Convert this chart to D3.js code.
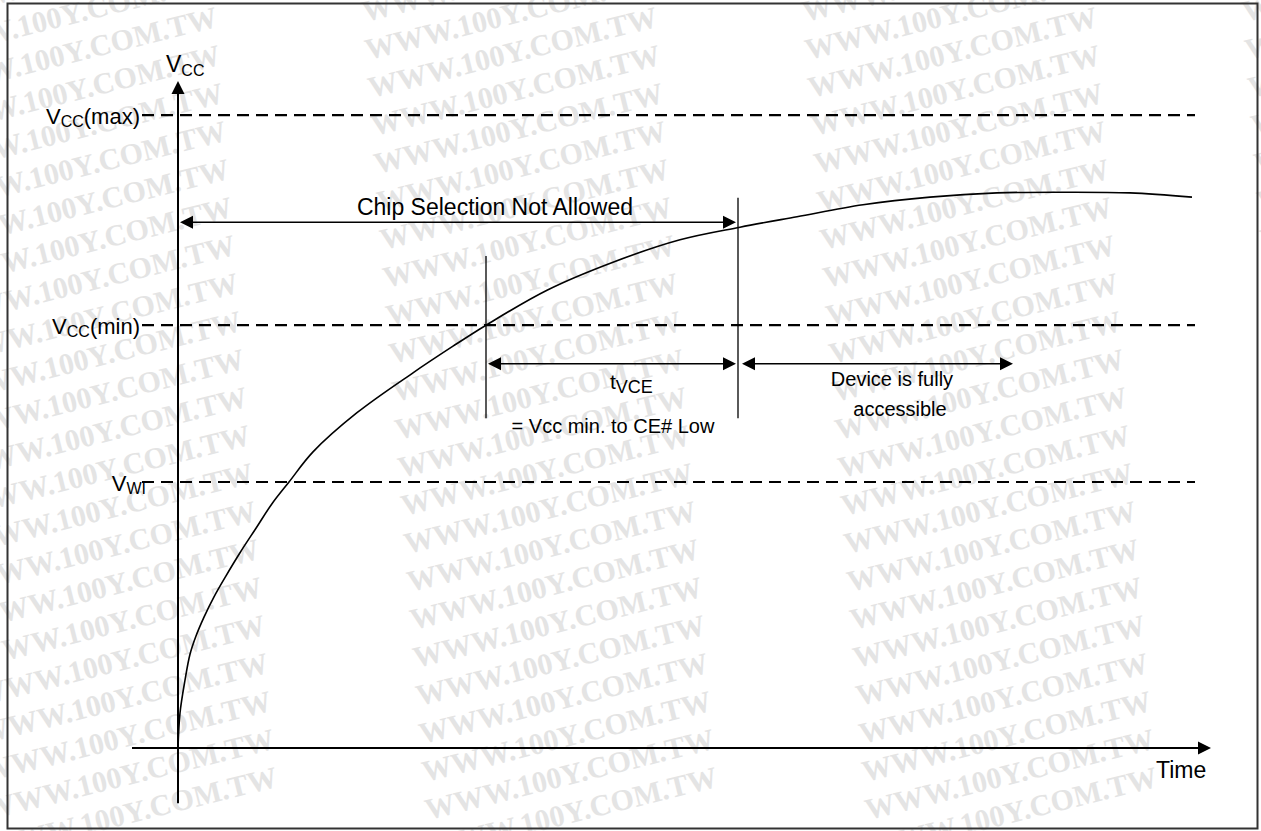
<!DOCTYPE html>
<html>
<head>
<meta charset="utf-8">
<script src="https://cdnjs.cloudflare.com/ajax/libs/d3/7.8.5/d3.min.js"></script>
<style>
  body { margin: 0; background: #fff; }
  text { font-family: "Liberation Sans", Arial, sans-serif; fill: #000; }
  .wm { font-family: "Liberation Serif", "Times New Roman", serif; font-weight: bold; fill: #e4e4e4; }
</style>
</head>
<body>
<div id="chart"></div>
<script>
// Vcc ramp (time, voltage in arbitrary units)
var rampTime  = [0, 0.2, 0.7, 1.2, 1.8, 2.6, 3.6, 4.8, 6.2, 7.8, 9.4, 11.1, 13.5, 17.9, 23.5, 27.5, 30.8, 36.9, 43.5, 50.2, 56.2, 61.9, 68.5, 75.2, 81.9, 88.5, 95.2, 101.4];
var rampVolts = [0, 5.0, 9.7, 13.4, 16.0, 18.7, 21.6, 24.6, 27.9, 31.4, 34.9, 38.0, 42.3, 47.9, 53.6, 57.4, 60.4, 65.4, 69.4, 72.6, 74.4, 75.9, 77.6, 78.7, 79.3, 79.4, 79.3, 78.7];

// reference levels: Vcc(max), Vcc(min), VWI
var levelSubs   = ["CC", "CC", "WI"];
var levelTails  = ["(max)", "(min)", ""];
var levelValues = [90.4, 60.4, 38.0];

// timing marks
var tVccMin = 30.8;   // Vcc reaches Vcc(min)
var tCeLow  = 56.0;   // end of tVCE
var tAccessEnd = 83.5;

var svgWidth = 1261;
var svgHeight = 831;

var svg = d3.select("#chart")
  .append("svg")
  .attr("width", svgWidth)
  .attr("height", svgHeight);

// scales
var xScale = d3.scaleLinear().domain([0, 100]).range([178, 1178]);
var yScale = d3.scaleLinear().domain([0, 100]).range([748, 48]);

// watermark
var wm = svg.append("g");
for (var r = 0; r < 23; r++) {
  for (var c = 0; c < 4; c++) {
    var wx = -75 + c * 440 + r * 3;
    var wy = 22 + r * 38;
    wm.append("text")
      .attr("class", "wm")
      .attr("font-size", "30px")
      .attr("transform", `translate(${wx}, ${wy}) rotate(-14)`)
      .text("WWW.100Y.COM.TW");
  }
}

// frame
svg.append("rect")
  .attr("x", 7.5).attr("y", 3.5)
  .attr("width", 1250).attr("height", 825)
  .attr("fill", "none")
  .attr("stroke", "#333")
  .attr("stroke-width", 2);

// arrow head helper (tip at x,y pointing in dir)
function arrowHead(x, y, dir) {
  var len = 13, hw = 6.5, p;
  if (dir == "right") p = [[x, y], [x - len, y - hw], [x - len, y + hw]];
  if (dir == "left")  p = [[x, y], [x + len, y - hw], [x + len, y + hw]];
  if (dir == "up")    p = [[x, y], [x - hw, y + len], [x + hw, y + len]];
  svg.append("path")
    .attr("d", "M" + p.join("L") + "Z")
    .attr("fill", "#000");
}

// dashed levels
levelValues.forEach(function(v) {
  svg.append("line")
    .attr("x1", 142).attr("x2", 1195)
    .attr("y1", yScale(v)).attr("y2", yScale(v))
    .attr("stroke", "#000")
    .attr("stroke-width", 2.2)
    .attr("stroke-dasharray", "12,7");
});

// axes
svg.append("line")
  .attr("x1", xScale(0)).attr("x2", xScale(0))
  .attr("y1", yScale(-7.9)).attr("y2", yScale(94))
  .attr("stroke", "#000").attr("stroke-width", 2);
arrowHead(xScale(0), yScale(95.3), "up");

svg.append("line")
  .attr("x1", xScale(-4.6)).attr("x2", xScale(102))
  .attr("y1", yScale(0)).attr("y2", yScale(0))
  .attr("stroke", "#000").attr("stroke-width", 2);
arrowHead(xScale(103.3), yScale(0), "right");

// the ramp
var rampData = rampTime.map(function(t, i) { return { t: t, v: rampVolts[i] }; });
var line = d3.line()
  .x(d => xScale(d.t))
  .y(d => yScale(d.v))
  .curve(d3.curveCatmullRom.alpha(0.5));
svg.append("path")
  .datum(rampData)
  .attr("d", line)
  .attr("fill", "none")
  .attr("stroke", "#000")
  .attr("stroke-width", 1.6);

// vertical markers
svg.append("line")
  .attr("x1", xScale(tVccMin)).attr("x2", xScale(tVccMin))
  .attr("y1", yScale(70.3)).attr("y2", yScale(47.1))
  .attr("stroke", "#000").attr("stroke-width", 1.3);
svg.append("line")
  .attr("x1", xScale(tCeLow)).attr("x2", xScale(tCeLow))
  .attr("y1", yScale(78.6)).attr("y2", yScale(47.1))
  .attr("stroke", "#000").attr("stroke-width", 1.3);

// double arrows
function dimArrow(t1, t2, v) {
  svg.append("line")
    .attr("x1", xScale(t1) + 4).attr("x2", xScale(t2) - 4)
    .attr("y1", yScale(v)).attr("y2", yScale(v))
    .attr("stroke", "#000").attr("stroke-width", 1.5);
  arrowHead(xScale(t1), yScale(v), "left");
  arrowHead(xScale(t2), yScale(v), "right");
}
dimArrow(0.2, tCeLow - 0.2, 75.1);
dimArrow(tVccMin + 0.2, tCeLow - 0.2, 54.9);
dimArrow(tCeLow + 0.4, tAccessEnd, 54.9);

// labels
var vcc = svg.append("text").attr("x", 166).attr("y", 72).attr("font-size", "23px");
vcc.append("tspan").text("V");
vcc.append("tspan").attr("font-size", "16px").attr("dy", 4).text("CC");

levelValues.forEach(function(v, i) {
  var t = svg.append("text")
    .attr("x", i == 2 ? 146 : 140).attr("y", yScale(v) + 9)
    .attr("text-anchor", "end")
    .attr("font-size", "22px");
  t.append("tspan").text("V");
  t.append("tspan").attr("font-size", "16px").attr("dy", 3).text(levelSubs[i]);
  if (levelTails[i]) t.append("tspan").attr("dy", -3).text(levelTails[i]);
});

svg.append("text")
  .attr("x", 495).attr("y", 215)
  .attr("text-anchor", "middle")
  .attr("font-size", "23px")
  .text("Chip Selection Not Allowed");

var tv = svg.append("text").attr("x", 610).attr("y", 389).attr("font-size", "21px");
tv.append("tspan").text("t");
tv.append("tspan").attr("font-size", "18px").attr("dy", 4).text("VCE");

svg.append("text")
  .attr("x", 613).attr("y", 433)
  .attr("text-anchor", "middle")
  .attr("font-size", "20px")
  .text("= Vcc min. to CE# Low");

svg.append("text")
  .attr("x", 892).attr("y", 386)
  .attr("text-anchor", "middle")
  .attr("font-size", "20px")
  .text("Device is fully");
svg.append("text")
  .attr("x", 900).attr("y", 416)
  .attr("text-anchor", "middle")
  .attr("font-size", "20px")
  .text("accessible");

svg.append("text")
  .attr("x", 1156).attr("y", 778)
  .attr("font-size", "23px")
  .text("Time");
</script>
</body>
</html>
